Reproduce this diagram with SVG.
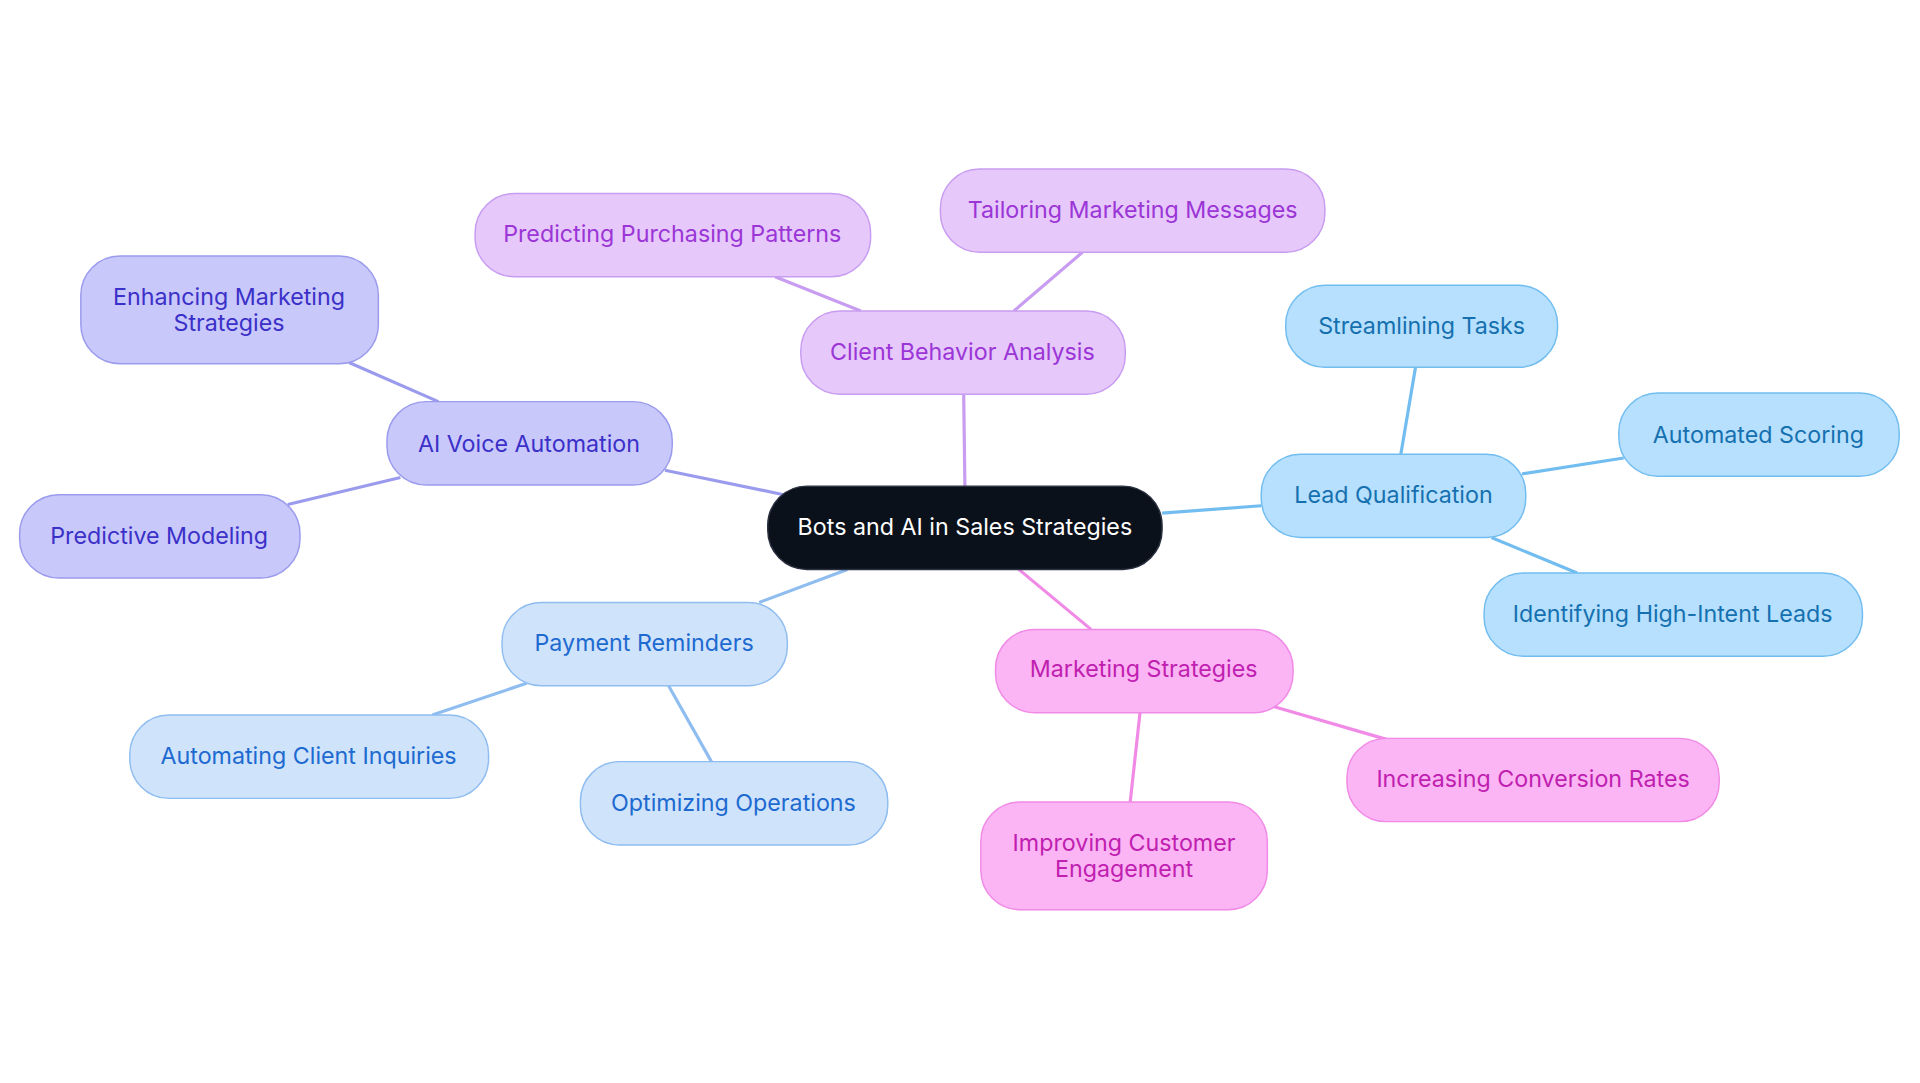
<svg xmlns="http://www.w3.org/2000/svg" width="1920" height="1083" viewBox="0 0 1920 1083">
<style>
text{font-family:Inter,"Noto Sans",sans-serif;font-size:19px;text-anchor:middle;dominant-baseline:central}
.p rect{fill:#e6c8fb;stroke:#c89cf0}.p text{fill:#9b35d6}
.v rect{fill:#c8c8fa;stroke:#9b9bee}.v text{fill:#3b30c8}
.l rect{fill:#b6e0fd;stroke:#72bdf0}.l text{fill:#1570b0}
.b rect{fill:#cfe3fb;stroke:#8fbdf0}.b text{fill:#1d6ad0}
.m rect{fill:#fbb5f4;stroke:#f08ae6}.m text{fill:#c020b0}
rect{stroke-width:1.2}
#edges line{stroke-width:2.6}
</style>
<rect width="1920" height="1083" fill="#fff"/>
<g transform="scale(1.2245)">
<g id="edges">
<line x1="788" y1="397" x2="787" y2="322" stroke="#c89cf0"/>
<line x1="703" y1="254" x2="633" y2="226" stroke="#c89cf0"/>
<line x1="828" y1="254" x2="884" y2="206" stroke="#c89cf0"/>
<line x1="640" y1="404" x2="543" y2="384" stroke="#9b9bee"/>
<line x1="358" y1="328" x2="285" y2="296" stroke="#9b9bee"/>
<line x1="327" y1="390" x2="235" y2="412" stroke="#9b9bee"/>
<line x1="949" y1="419" x2="1030" y2="413" stroke="#72bdf0"/>
<line x1="1144" y1="371" x2="1156" y2="300" stroke="#72bdf0"/>
<line x1="1243" y1="387" x2="1326" y2="374" stroke="#72bdf0"/>
<line x1="1218" y1="439" x2="1288" y2="468" stroke="#72bdf0"/>
<line x1="692" y1="465" x2="620" y2="492" stroke="#8fbdf0"/>
<line x1="430" y1="558" x2="353" y2="584" stroke="#8fbdf0"/>
<line x1="546" y1="560" x2="581" y2="622" stroke="#8fbdf0"/>
<line x1="832" y1="465" x2="891" y2="514" stroke="#f08ae6"/>
<line x1="1040" y1="577" x2="1133" y2="604" stroke="#f08ae6"/>
<line x1="931" y1="582" x2="923" y2="655" stroke="#f08ae6"/>
</g>
<g id="center"><rect x="627" y="397" width="322" height="68" rx="32" fill="#0b111b" stroke="#2a3040"/><text x="788" y="430" fill="#fff">Bots and AI in Sales Strategies</text></g>
<g id="cba" class="p"><rect x="654" y="254" width="265" height="68" rx="32"/><text x="786" y="287">Client Behavior Analysis</text></g>
<g id="ppp" class="p"><rect x="388" y="158" width="323" height="68" rx="32"/><text x="549" y="191">Predicting Purchasing Patterns</text></g>
<g id="tmm" class="p"><rect x="768" y="138" width="314" height="68" rx="32"/><text x="925" y="171">Tailoring Marketing Messages</text></g>
<g id="ava" class="v"><rect x="316" y="328" width="233" height="68" rx="32"/><text x="432" y="362">AI Voice Automation</text></g>
<g id="ems" class="v"><rect x="66" y="209" width="243" height="88" rx="32"/><text x="187" y="242">Enhancing Marketing</text><text x="187" y="263">Strategies</text></g>
<g id="pm" class="v"><rect x="16" y="404" width="229" height="68" rx="32"/><text x="130" y="437">Predictive Modeling</text></g>
<g id="lq" class="l"><rect x="1030" y="371" width="216" height="68" rx="32"/><text x="1138" y="404">Lead Qualification</text></g>
<g id="st" class="l"><rect x="1050" y="233" width="222" height="67" rx="32"/><text x="1161" y="266">Streamlining Tasks</text></g>
<g id="as" class="l"><rect x="1322" y="321" width="229" height="68" rx="32"/><text x="1436" y="355">Automated Scoring</text></g>
<g id="ihl" class="l"><rect x="1212" y="468" width="309" height="68" rx="32"/><text x="1366" y="501">Identifying High-Intent Leads</text></g>
<g id="pr" class="b"><rect x="410" y="492" width="233" height="68" rx="32"/><text x="526" y="525">Payment Reminders</text></g>
<g id="aci" class="b"><rect x="106" y="584" width="293" height="68" rx="32"/><text x="252" y="617">Automating Client Inquiries</text></g>
<g id="oo" class="b"><rect x="474" y="622" width="251" height="68" rx="32"/><text x="599" y="655">Optimizing Operations</text></g>
<g id="ms" class="m"><rect x="813" y="514" width="243" height="68" rx="32"/><text x="934" y="546">Marketing Strategies</text></g>
<g id="icr" class="m"><rect x="1100" y="603" width="304" height="68" rx="32"/><text x="1252" y="636">Increasing Conversion Rates</text></g>
<g id="ice" class="m"><rect x="801" y="655" width="234" height="88" rx="32"/><text x="918" y="688">Improving Customer</text><text x="918" y="709">Engagement</text></g>
</g>
</svg>
